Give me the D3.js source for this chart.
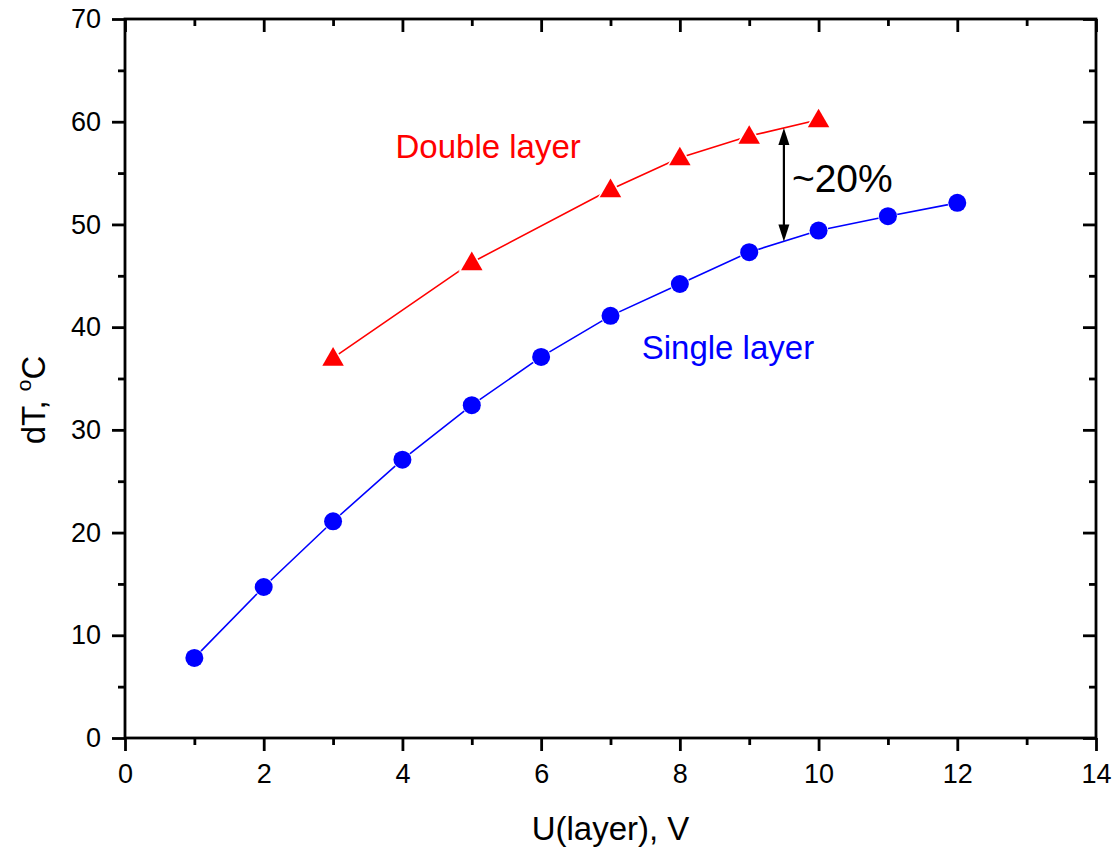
<!DOCTYPE html>
<html>
<head>
<meta charset="utf-8">
<script src="https://cdn.jsdelivr.net/npm/d3@7"></script>
<style>
  html, body { margin: 0; padding: 0; background: #fff; }
  svg { display: block; font-family: "Liberation Sans", Arial, Helvetica, sans-serif; }
</style>
</head>
<body>
<svg id="chart" width="1114" height="849"></svg>
<script>
// Temperature rise dT versus layer voltage U
const singleU  = [1, 2, 3, 4, 5, 6, 7, 8, 9, 10, 11, 12];
const singleDT = [7.8, 14.7, 21.1, 27.1, 32.4, 37.1, 41.1, 44.2, 47.3, 49.4, 50.8, 52.1];
const doubleU  = [3, 5, 7, 8, 9, 10];
const doubleDT = [37.0, 46.3, 53.4, 56.5, 58.6, 60.2];

const xMajorTicks = [0, 2, 4, 6, 8, 10, 12, 14];
const xMinorTicks = [1, 3, 5, 7, 9, 11, 13];
const yMajorTicks = [0, 10, 20, 30, 40, 50, 60, 70];
const yMinorTicks = [5, 15, 25, 35, 45, 55, 65];

// Gap annotation between the two curves
const gapU = 9.5;
const gapLabel = "~20%";

const svg = d3.select("#chart");
const plotL = 125, plotR = 1096, plotT = 19, plotB = 738;

const x = d3.scaleLinear().domain([0, 14]).range([plotL, plotR]);
const y = d3.scaleLinear().domain([0, 70]).range([plotB, plotT]);

const axisW = 2.8, majorLen = 13, minorLen = 7;

function styleAxis(g) {
  g.selectAll("path.domain").remove();
  g.selectAll(".tick line").attr("stroke", "#000").attr("stroke-width", axisW);
}

// Frame
svg.append("rect")
  .attr("x", plotL).attr("y", plotT)
  .attr("width", plotR - plotL).attr("height", plotB - plotT)
  .attr("fill", "none").attr("stroke", "#000").attr("stroke-width", axisW);

// Bottom axis: outward ticks with labels
const gx = svg.append("g").attr("transform", `translate(0,${plotB})`)
  .call(d3.axisBottom(x).tickValues(xMajorTicks).tickSize(majorLen).tickPadding(13).tickFormat(d3.format("d")));
styleAxis(gx);
gx.selectAll("text").attr("font-size", 27).attr("fill", "#000").attr("font-family", null);
svg.append("g").attr("transform", `translate(0,${plotB})`)
  .call(d3.axisBottom(x).tickValues(xMinorTicks).tickSize(minorLen).tickFormat(""))
  .call(styleAxis);

// Left axis
const gy = svg.append("g").attr("transform", `translate(${plotL},0)`)
  .call(d3.axisLeft(y).tickValues(yMajorTicks).tickSize(majorLen).tickPadding(11).tickFormat(d3.format("d")));
styleAxis(gy);
gy.selectAll("text").attr("font-size", 27).attr("fill", "#000").attr("font-family", null);
svg.append("g").attr("transform", `translate(${plotL},0)`)
  .call(d3.axisLeft(y).tickValues(yMinorTicks).tickSize(minorLen).tickFormat(""))
  .call(styleAxis);

// Top axis: inward ticks
svg.append("g").attr("transform", `translate(0,${plotT})`)
  .call(d3.axisTop(x).tickValues(xMajorTicks).tickSize(-majorLen).tickFormat(""))
  .call(styleAxis);
svg.append("g").attr("transform", `translate(0,${plotT})`)
  .call(d3.axisTop(x).tickValues(xMinorTicks).tickSize(-minorLen).tickFormat(""))
  .call(styleAxis);

// Right axis: inward ticks
svg.append("g").attr("transform", `translate(${plotR},0)`)
  .call(d3.axisRight(y).tickValues(yMajorTicks).tickSize(-majorLen).tickFormat(""))
  .call(styleAxis);
svg.append("g").attr("transform", `translate(${plotR},0)`)
  .call(d3.axisRight(y).tickValues(yMinorTicks).tickSize(-minorLen).tickFormat(""))
  .call(styleAxis);

// Axis titles
svg.append("text")
  .attr("x", (plotL + plotR) / 2).attr("y", 840)
  .attr("text-anchor", "middle").attr("font-size", 33)
  .text("U(layer), V");

const yTitle = svg.append("text")
  .attr("transform", `translate(45,400) rotate(-90)`)
  .attr("text-anchor", "middle").attr("font-size", 33);
yTitle.append("tspan").text("dT, ");
yTitle.append("tspan").attr("font-size", 21).attr("dy", -14).text("o");
yTitle.append("tspan").attr("dy", 14).text("C");

// Series
const singleData = singleU.map((u, i) => ({ u, t: singleDT[i] }));
const doubleData = doubleU.map((u, i) => ({ u, t: doubleDT[i] }));

const line = d3.line().x(d => x(d.u)).y(d => y(d.t));

svg.append("path").datum(singleData)
  .attr("d", line).attr("fill", "none").attr("stroke", "#0000ff").attr("stroke-width", 1.6);
svg.append("path").datum(doubleData)
  .attr("d", line).attr("fill", "none").attr("stroke", "#ff0000").attr("stroke-width", 1.6);

svg.append("g").selectAll("circle").data(singleData).join("circle")
  .attr("cx", d => x(d.u)).attr("cy", d => y(d.t)).attr("r", 9)
  .attr("fill", "#0000ff").attr("stroke", "#fff").attr("stroke-width", 1.5)
  .attr("paint-order", "stroke");

const tri = d3.symbol().type(d3.symbolTriangle).size(200);
svg.append("g").selectAll("path").data(doubleData).join("path")
  .attr("d", tri)
  .attr("transform", d => `translate(${x(d.u)},${y(d.t) + 1.5})`)
  .attr("fill", "#ff0000").attr("stroke", "#fff").attr("stroke-width", 3)
  .attr("paint-order", "stroke");

// Series labels
svg.append("text").attr("x", x(3.9)).attr("y", y(56.5))
  .attr("font-size", 33).attr("fill", "#ff0000").text("Double layer");
svg.append("text").attr("x", x(7.45)).attr("y", y(36.9))
  .attr("font-size", 33).attr("fill", "#0000ff").text("Single layer");

// Double-headed arrow spanning the gap at gapU
const interp = (us, ts, u) => {
  const i = d3.bisectLeft(us, u);
  const f = (u - us[i - 1]) / (us[i] - us[i - 1]);
  return ts[i - 1] + f * (ts[i] - ts[i - 1]);
};
const yTop = y(interp(doubleU, doubleDT, gapU));
const yBot = y(interp(singleU, singleDT, gapU));
const ax = x(gapU), headL = 17, headW = 5.5;
svg.append("line")
  .attr("x1", ax).attr("x2", ax).attr("y1", yTop + headL - 2).attr("y2", yBot - headL + 2)
  .attr("stroke", "#000").attr("stroke-width", 2.2);
svg.append("path")
  .attr("d", `M${ax},${yTop} L${ax - headW},${yTop + headL} L${ax + headW},${yTop + headL} Z`)
  .attr("fill", "#000");
svg.append("path")
  .attr("d", `M${ax},${yBot} L${ax - headW},${yBot - headL} L${ax + headW},${yBot - headL} Z`)
  .attr("fill", "#000");
svg.append("text").attr("x", ax + 8).attr("y", 192)
  .attr("font-size", 39).attr("fill", "#000").text(gapLabel);
</script>
</body>
</html>
